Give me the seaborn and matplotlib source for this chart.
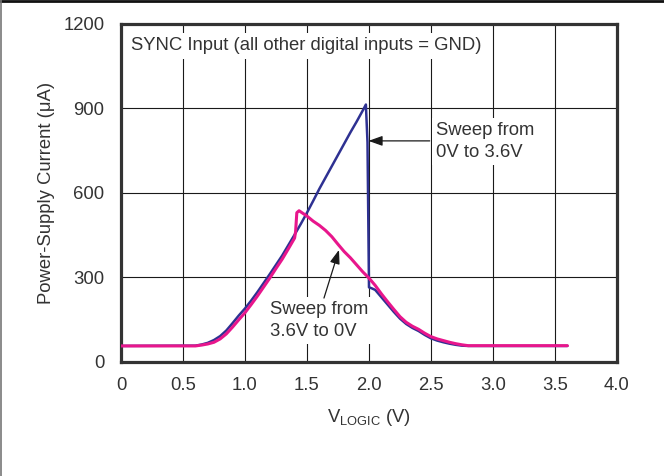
import matplotlib
matplotlib.use("Agg")
import matplotlib.pyplot as plt
import seaborn as sns
import pandas as pd
from matplotlib.lines import Line2D

# Sweep from 0 V up to 3.6 V
up_v = [0.0, 0.6, 0.65, 0.7, 0.75, 0.8, 0.85, 0.9, 0.95, 1.0, 1.05, 1.1, 1.15,
        1.2, 1.25, 1.3, 1.35, 1.4, 1.45, 1.5, 1.55, 1.6, 1.65, 1.7, 1.75, 1.8,
        1.85, 1.9, 1.95, 1.975, 1.988, 2.0, 2.02, 2.05, 2.1, 2.15, 2.2, 2.25,
        2.3, 2.35, 2.4, 2.45, 2.5, 2.55, 2.6, 2.65, 2.7, 2.75, 2.8, 3.6]
up_i = [57, 58, 62, 68, 78, 92, 112, 138, 165, 190, 218, 248, 280,
        312, 345, 378, 415, 452, 490, 530, 572, 615, 655, 695, 735, 775,
        815, 853, 893, 914, 780, 265, 262, 256, 230, 204, 178, 154,
        135, 121, 110, 96, 84, 76, 70, 65, 61, 58, 57, 57]

# Sweep from 3.6 V down to 0 V
down_v = [0.0, 0.6, 0.65, 0.7, 0.75, 0.8, 0.85, 0.9, 0.95, 1.0, 1.05, 1.1, 1.15,
          1.2, 1.25, 1.3, 1.35, 1.4, 1.408, 1.418, 1.436, 1.5, 1.55, 1.6, 1.65,
          1.7, 1.75, 1.8, 1.85, 1.9, 1.95, 2.0, 2.05, 2.1, 2.15, 2.2, 2.25,
          2.3, 2.35, 2.4, 2.45, 2.5, 2.55, 2.6, 2.65, 2.7, 2.75, 2.8, 3.6]
down_i = [57, 57, 60, 64, 70, 82, 100, 124, 150, 175, 204, 234, 266,
          298, 332, 365, 402, 440, 462, 530, 537, 518, 500, 485, 467,
          445, 418, 392, 370, 345, 320, 298, 272, 242, 214, 187, 161,
          141, 127, 116, 102, 90, 82, 76, 70, 65, 61, 58, 58]

x_ticks = [0, 0.5, 1.0, 1.5, 2.0, 2.5, 3.0, 3.5, 4.0]
x_tick_labels = ["0", "0.5", "1.0", "1.5", "2.0", "2.5", "3.0", "3.5", "4.0"]
y_ticks = [0, 300, 600, 900, 1200]
y_tick_labels = ["0", "300", "600", "900", "1200"]

BLUE = "#2e3192"
PINK = "#e8168c"
INK = "#333333"
FS = 13.3

sns.set_theme(style="white")
plt.rcParams["font.family"] = ["Liberation Sans", "DejaVu Sans"]
plt.rcParams["mathtext.fontset"] = "custom"
plt.rcParams["mathtext.rm"] = "Liberation Sans"

fig = plt.figure(figsize=(6.64, 4.76), dpi=100)
ax = fig.add_axes([0.1822, 0.2395, 0.747, 0.7101])

up_df = pd.DataFrame({"v": up_v, "i": up_i})
down_df = pd.DataFrame({"v": down_v, "i": down_i})

sns.lineplot(data=up_df, x="v", y="i", ax=ax, sort=False, estimator=None,
             color=BLUE, linewidth=1.8, zorder=3)
sns.lineplot(data=down_df, x="v", y="i", ax=ax, sort=False, estimator=None,
             color=PINK, linewidth=2.2, zorder=4)

ax.set_xlim(0, 4.0)
ax.set_ylim(0, 1200)
ax.set_xticks(x_ticks)
ax.set_xticklabels(x_tick_labels)
ax.set_yticks(y_ticks)
ax.set_yticklabels(y_tick_labels)
ax.tick_params(axis="both", length=0, labelsize=FS, labelcolor=INK)
ax.tick_params(axis="x", pad=11)
ax.tick_params(axis="y", pad=12)

ax.grid(True, color="#1a1a1a", linewidth=0.8, zorder=1)
ax.set_axisbelow(True)
for s in ax.spines.values():
    s.set_visible(True)
    s.set_color(INK)
    s.set_linewidth(2.3)

ax.set_xlabel(r"V$_{\mathregular{LOGIC}}$ (V)", fontsize=FS, color=INK, labelpad=9)
ax.set_ylabel("Power-Supply Current (μA)", fontsize=FS, color=INK, labelpad=6)

box = dict(facecolor="white", edgecolor="none", pad=3)
ax.text(0.08, 1122, "SYNC Input (all other digital inputs = GND)", fontsize=FS,
        color=INK, va="center", ha="left", bbox=box, zorder=5)
ax.text(2.54, 783, "Sweep from\n0V to 3.6V", fontsize=FS, color=INK,
        va="center", ha="left", linespacing=1.35, bbox=box, zorder=5)
ax.text(1.205, 148, "Sweep from\n3.6V to 0V", fontsize=FS, color=INK,
        va="center", ha="left", linespacing=1.35, bbox=box, zorder=5)

arrow = dict(arrowstyle="-|>,head_length=0.7,head_width=0.25", color="#1a1a1a",
             lw=0.9, shrinkA=0, shrinkB=0)
ax.annotate("", xy=(1.996, 785), xytext=(2.49, 785), arrowprops=arrow, zorder=6)
ax.annotate("", xy=(1.758, 398), xytext=(1.637, 227), arrowprops=arrow, zorder=6)

# frame lines at the top and left of the figure
fig.add_artist(Line2D([0, 1], [0.997, 0.997], transform=fig.transFigure,
                      color="#111111", linewidth=2.0))
fig.add_artist(Line2D([0.0008, 0.0008], [0, 1], transform=fig.transFigure,
                      color="#777777", linewidth=1.2))

fig.savefig("out.png", dpi=100)
